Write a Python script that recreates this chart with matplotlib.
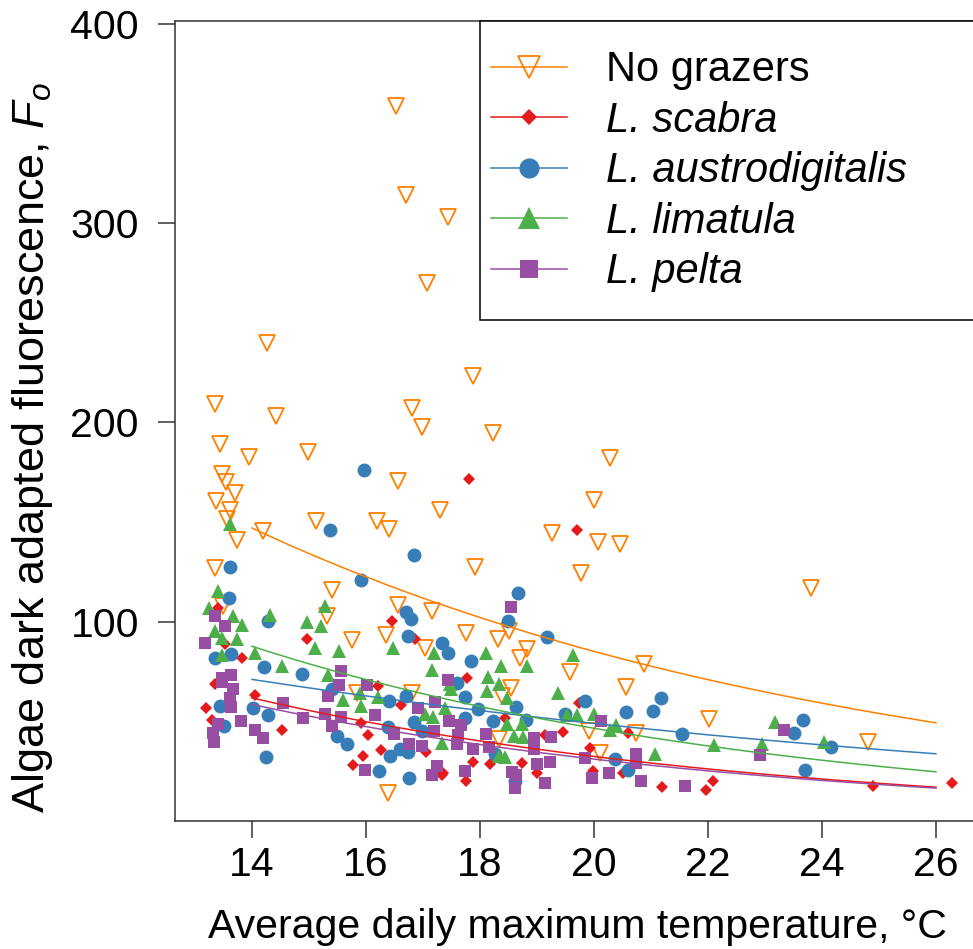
import numpy as np
import matplotlib
matplotlib.use("Agg")
import matplotlib.pyplot as plt
from matplotlib.lines import Line2D
from matplotlib.patches import Rectangle

plt.rcParams['font.family'] = ['Liberation Sans', 'DejaVu Sans']
plt.rcParams['mathtext.fontset'] = 'custom'
plt.rcParams['mathtext.rm'] = 'Liberation Sans'
plt.rcParams['mathtext.it'] = 'Liberation Sans:italic'

# ---------------- data ----------------
series_names = ["No grazers", "L. scabra", "L. austrodigitalis", "L. limatula", "L. pelta"]
series_colors = ["#FF7F00", "#E41A1C", "#377EB8", "#4DAF4A", "#984EA3"]

nograz_x = [16.53, 16.70, 17.44, 17.07, 14.26, 13.36, 14.43, 16.81, 17.87, 16.98, 18.23, 13.44, 13.94,
            14.98, 13.47, 13.54, 13.70, 13.37, 13.61, 13.57, 15.13, 14.19, 13.73, 16.20, 16.40, 17.30,
            16.56, 13.36, 15.40, 16.57, 17.15, 15.31, 20.28, 20.00, 19.27, 20.07, 20.46, 17.91, 19.78,
            17.75, 18.32, 18.51, 18.83, 18.70, 19.58, 20.88, 23.80, 22.02, 24.81, 20.57, 18.54, 18.38,
            19.92, 20.74, 18.33, 20.11, 13.50, 15.75, 16.36, 17.03, 16.38, 16.80, 15.84]
nograz_y = [359, 314, 303, 270, 240, 209.5, 203.3, 207.4, 223.2, 197.6, 194.8, 189.4, 182.6,
            185, 173.9, 170.2, 164.8, 160.8, 156.3, 151.3, 150.4, 145.6, 140.9, 150.4, 146.6, 156.3,
            170.4, 126.9, 115.7, 108.6, 105.3, 102.8, 182.2, 161, 144.6, 139.9, 138.8, 127.6, 124.5,
            94.4, 91.4, 95.2, 86.4, 81.9, 74.7, 79.0, 117, 51.3, 39.5, 67.1, 66.5, 62.6,
            45.1, 44.3, 40.9, 34.2, 108.1, 90.7, 93.1, 86.9, 14.2, 64.3, 64.3]

scabra_x = [17.80, 19.70, 26.28, 24.89, 22.09, 21.96, 17.77, 17.36, 17.75, 17.88, 18.18, 18.73, 19.00,
            19.45, 19.14, 20.60, 19.99, 20.51, 21.19, 18.44, 19.74, 19.93, 13.40, 14.96, 16.45, 16.86,
            13.53, 13.83, 13.20, 13.36, 13.30, 14.05, 14.53, 15.92, 16.03, 16.26, 15.95, 15.78, 16.62,
            17.06, 17.34, 16.22]
scabra_y = [171.7, 146.1, 19.2, 17.8, 20.0, 15.8, 71.8, 24.2, 20.0, 29.7, 28.4, 28.9, 24.2,
            44.6, 43.4, 44.3, 25.0, 24.2, 17.0, 51.8, 59.3, 36.4, 107, 91.4, 100.3, 91.4,
            88.6, 81.9, 56.8, 68.9, 50.9, 63.1, 45.9, 49.3, 43.1, 35.4, 32.5, 28.0, 58.1,
            34.7, 23.3, 67.6]

austro_x = [15.96, 15.37, 16.85, 13.61, 15.92, 13.60, 14.28, 16.70, 16.79, 16.74, 17.34, 17.44, 13.36,
            13.63, 14.22, 14.87, 18.67, 18.50, 19.18, 17.84, 23.67, 23.51, 24.15, 23.70, 17.74, 17.59,
            17.97, 18.63, 17.74, 18.23, 18.81, 19.84, 19.49, 20.57, 21.04, 21.17, 21.55, 20.37, 20.60,
            18.26, 18.61, 13.44, 13.51, 14.02, 14.29, 14.25, 15.50, 15.66, 15.40, 16.39, 16.42, 16.60,
            16.73, 16.85, 16.98, 16.23, 16.76, 16.40, 16.70]
austro_y = [175.9, 146.2, 133.7, 127.6, 120.8, 112, 100.3, 104.8, 101.5, 92.7, 89.1, 84.4, 81.9,
            83.6, 77.4, 74.0, 114.2, 100.3, 92.4, 80.2, 50.9, 44.2, 37.2, 25.5, 62.3, 69.3,
            56.3, 57.1, 51.8, 50.1, 50.6, 60.1, 53.8, 54.6, 55.1, 61.5, 43.8, 30.9, 25.8,
            33.7, 20.0, 57.6, 47.9, 56.8, 53.1, 32.0, 42.6, 38.4, 66, 47.1, 32.5, 35.9,
            34.7, 49.8, 45.1, 25.3, 21.7, 60.1, 62.6]

limat_x = [13.61, 18.11, 18.37, 18.83, 19.64, 18.15, 23.18, 22.11, 22.94, 24.04, 18.33, 18.12, 18.47,
           17.50, 17.39, 19.37, 19.52, 19.71, 20.00, 20.28, 20.39, 18.47, 18.73, 18.59, 18.75, 18.33,
           18.44, 21.07, 13.40, 13.25, 13.67, 13.82, 14.32, 14.96, 15.28, 15.21, 13.35, 13.48, 13.73,
           15.11, 15.53, 16.48, 14.05, 13.47, 14.52, 15.34, 17.20, 17.15, 15.60, 15.91, 15.89, 16.21,
           17.47, 17.33, 17.04, 17.18]
limat_y = [149.2, 84.4, 77.7, 78, 83.5, 72.1, 49.6, 37.9, 38.4, 39.5, 68.5, 65.1, 61.5,
           66, 56.8, 64.3, 53.1, 53.1, 53.8, 45.9, 48.4, 48.8, 48.8, 42.6, 42.1, 32.5,
           32.0, 33.4, 115.3, 107, 103.1, 98.6, 103.6, 99.8, 107.8, 98.1, 95.2, 91.9, 91.4,
           86.9, 85.2, 86.9, 84.4, 83.1, 77.7, 73.5, 84.4, 76.0, 60.5, 57.6, 64.3, 62.1,
           68.5, 39.2, 53.8, 52.1]

pelta_x = [18.55, 23.33, 22.92, 21.60, 17.44, 17.46, 17.66, 17.62, 17.60, 17.88, 18.11, 18.16, 17.74,
           18.57, 18.64, 18.61, 18.95, 18.95, 19.24, 19.23, 19.00, 19.14, 20.12, 19.85, 19.97, 20.27,
           20.74, 20.74, 20.83, 13.36, 13.53, 13.18, 15.57, 13.47, 13.64, 13.48, 13.67, 13.61, 13.64,
           13.41, 13.32, 13.34, 13.81, 14.06, 14.20, 14.55, 14.90, 15.28, 15.41, 15.57, 15.34, 15.53,
           16.01, 16.16, 16.50, 16.75, 16.92, 17.22, 17.20, 16.98, 15.99, 17.24, 17.15]
pelta_y = [107.5, 45.9, 32.9, 17.5, 71, 50.1, 48.4, 43.4, 38.4, 35.9, 43.8, 37.0, 25.0,
           24.7, 23.3, 16.7, 41.4, 35.9, 42.1, 29.7, 28.4, 19.2, 50.1, 31.4, 21.7, 24.2,
           33.7, 29.2, 20.0, 103.1, 98.1, 89.1, 75.2, 71.9, 73.5, 69.8, 66, 61.8, 57.1,
           48.8, 44.3, 39.7, 50.1, 45.9, 41.4, 59.3, 51.8, 53.8, 47.6, 52.1, 62.6, 68.1,
           68.1, 53.4, 43.8, 38.7, 56.5, 59.8, 45.4, 37.5, 25.8, 27.5, 23.0]

# exponential fits, log(y) = intercept + slope * temperature
fit_intercept = [6.266, 5.630, 5.133, 5.952, 5.546]
fit_slope = [-0.0911, -0.1076, -0.0621, -0.1056, -0.1055]
fit_range = [14, 26]

x_ticks = [14, 16, 18, 20, 22, 24, 26]
y_ticks = [100, 200, 300, 400]

# ---------------- figure ----------------
W, H = 973, 949
fig = plt.figure(figsize=(W / 100, H / 100), dpi=100)
ax = fig.add_axes([175 / W, (H - 821) / H, (973 - 175) / W, (821 - 20.7) / H])
ax.set_xlim(12.65, 26.65)
ax.set_ylim(0, 401.6)

xs_all = [nograz_x, scabra_x, austro_x, limat_x, pelta_x]
ys_all = [nograz_y, scabra_y, austro_y, limat_y, pelta_y]
marker_specs = [
    dict(marker='v', ms=11.2, mfc='none', mew=1.3),
    dict(marker='D', ms=5.8, mew=0),
    dict(marker='o', ms=10, mew=0),
    dict(marker='^', ms=10.5, mew=0),
    dict(marker='s', ms=8.8, mew=0),
]

for xs, ys, col, spec in zip(xs_all, ys_all, series_colors, marker_specs):
    kw = dict(spec)
    if kw.get('mfc') != 'none':
        kw['mfc'] = col
    ax.plot(xs, ys, ls='none', mec=col, zorder=2, **kw)

tgrid = np.linspace(fit_range[0], fit_range[1], 200)
for b0, b1, col in zip(fit_intercept, fit_slope, series_colors):
    ax.plot(tgrid, np.exp(b0 + b1 * tgrid), color=col, lw=1.1, zorder=3)

# axes styling
for s in ['left', 'top', 'bottom']:
    ax.spines[s].set_linewidth(1.1)
    ax.spines[s].set_color('#333333')
ax.spines['right'].set_visible(False)
ax.set_xticks(x_ticks)
ax.set_yticks(y_ticks)
ax.tick_params(axis='both', direction='out', length=12, width=1.1, color='#333333',
               labelsize=29.5, labelcolor='black')
ax.tick_params(axis='y', pad=14)
ax.tick_params(axis='x', pad=6)

ax.set_xlabel('Average daily maximum temperature, °C', fontsize=29.5)
ax.xaxis.label.set_va('baseline')
ax.xaxis.set_label_coords((577.5 - 175) / 798, (821 - 938) / 800.3)
ax.set_ylabel('Algae dark adapted fluorescence, $F_o$', fontsize=32.5)
ax.yaxis.label.set_va('baseline')
ax.yaxis.set_label_coords((44 - 175) / 798, (821 - 448) / 800.3)

# legend
handles = []
for col, spec in zip(series_colors, marker_specs):
    kw = dict(spec)
    if kw.get('mfc') != 'none':
        kw['mfc'] = col
    handles.append(Line2D([], [], color=col, lw=1.1, mec=col, **kw))
frame = Rectangle(((480 - 175) / 798, (821 - 320) / 800.3), 0.7, (320 - 21) / 800.3,
                  transform=ax.transAxes, facecolor='white', edgecolor='black',
                  lw=1.1, clip_on=False, zorder=4)
ax.add_patch(frame)
leg = ax.legend(handles, series_names, loc='upper left',
                bbox_to_anchor=((491 - 175) / 798, (821 - 50.5) / 800.3),
                frameon=False, fontsize=30, markerscale=1.45,
                handlelength=1.83, handletextpad=0.93, labelspacing=0.25,
                borderpad=0, borderaxespad=0)
leg.set_zorder(5)
for t in leg.get_texts()[1:]:
    t.set_fontstyle('italic')

fig.savefig('out.png', dpi=100)
